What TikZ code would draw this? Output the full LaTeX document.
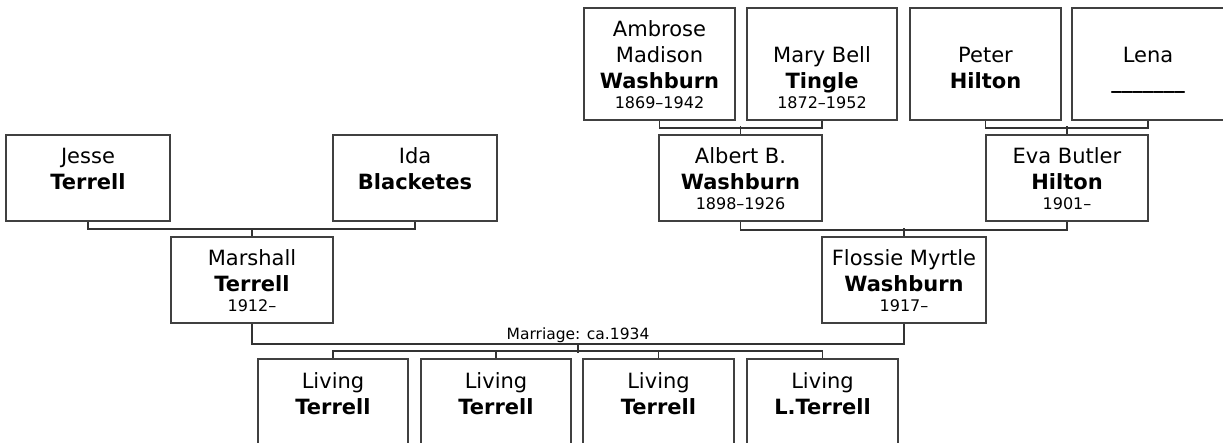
\documentclass[tikz,border=0pt]{standalone}
\usepackage{fontspec}
\setmainfont{DejaVu Sans}
\usetikzlibrary{calc}
\newcommand\tstr{\rule{0pt}{24pt}}
\newcommand\dt[1]{{\fontsize{16}{20}\selectfont\strut#1}}
\newcommand\pthree[3]{\tstr\strut#1\\\strut\textbf{#2}\\[-6pt]\dt{#3}}
\newcommand\pfour[4]{\tstr\strut#1\\\strut#2\\\strut\textbf{#3}\\[-6pt]\dt{#4}}
\tikzset{
  pbox/.style={draw=black!75, line width=2pt, rectangle, inner sep=0pt, align=center,
    font=\fontsize{21}{26}\selectfont, minimum width=164pt, minimum height=86pt},
  tbox/.style={pbox, minimum width=151pt, minimum height=112pt},
  cbox/.style={pbox, minimum width=150pt},
  conn/.style={draw=black!80, line width=1.2pt},
  lbl/.style={font=\fontsize{15.5}{18}\selectfont, inner sep=0pt, anchor=base}
}
\begin{document}
\begin{tikzpicture}[x=1pt,y=-1pt]
\useasboundingbox (0,0) rectangle (1223,443);
\clip (0,0) rectangle (1223,443);
% top generation
\node[tbox] (ambrose) at (659.5,64) {\pfour{Ambrose}{Madison}{Washburn}{1869–1942}};
\node[tbox, minimum width=150pt] (mary) at (822,64) {\pfour{}{Mary Bell}{Tingle}{1872–1952}};
\node[tbox] (peter) at (985.5,64) {\pfour{}{Peter}{Hilton}{}};
\node[tbox, minimum width=152pt] (lena) at (1148,64) {\pfour{}{Lena}{\_\_\_\_\_\_\_}{}};
% grandparents
\node[pbox] (jesse) at (88,178) {\pthree{Jesse}{Terrell}{}};
\node[pbox] (ida) at (415,178) {\pthree{Ida}{Blacketes}{}};
\node[pbox, minimum width=163pt] (albert) at (740.5,178) {\pthree{Albert B.}{Washburn}{1898–1926}};
\node[pbox, minimum width=162pt] (eva) at (1067,178) {\pthree{Eva Butler}{Hilton}{1901–}};
% parents
\node[pbox, minimum width=162pt] (marshall) at (252,280) {\pthree{Marshall}{Terrell}{1912–}};
\node[pbox] (flossie) at (904,280) {\pthree{Flossie Myrtle}{Washburn}{1917–}};
% children
\node[cbox] (c1) at (333,402) {\pthree{Living}{Terrell}{}};
\node[cbox] (c2) at (496,402) {\pthree{Living}{Terrell}{}};
\node[cbox, minimum width=151pt] (c3) at (658.5,402) {\pthree{Living}{Terrell}{}};
\node[cbox, minimum width=151pt] (c4) at (822.5,402) {\pthree{Living}{L.Terrell}{}};
% connectors
\draw[conn] (ambrose.south) -- ++(0,7) -| (mary.south);
\draw[conn] (albert.north) -- ++(0,-8);
\draw[conn] (peter.south) -- ++(0,7) -| (lena.south);
\draw[conn] (eva.north) -- ++(0,-8);
\draw[conn] (jesse.south) -- ++(0,7) -| (ida.south);
\draw[conn] (marshall.north) -- ++(0,-8);
\draw[conn] (albert.south) -- ++(0,8) -| (eva.south);
\draw[conn] (flossie.north) -- ++(0,-8);
\draw[conn] (marshall.south) -- ++(0,20) -| (flossie.south);
\coordinate (mar) at ($(marshall.south)!0.5!(flossie.south)+(0,20)$);
\node[lbl] (marlbl) at ($(mar)+(0,-4)$) {Marriage: ca.1934};
\draw[conn] (mar) -- ++(0,9);
\draw[conn] (c1.north) -- ++(0,-7) -| (c4.north);
\draw[conn] (c2.north) -- ++(0,-7);
\draw[conn] (c3.north) -- ++(0,-7);
\end{tikzpicture}
\end{document}
